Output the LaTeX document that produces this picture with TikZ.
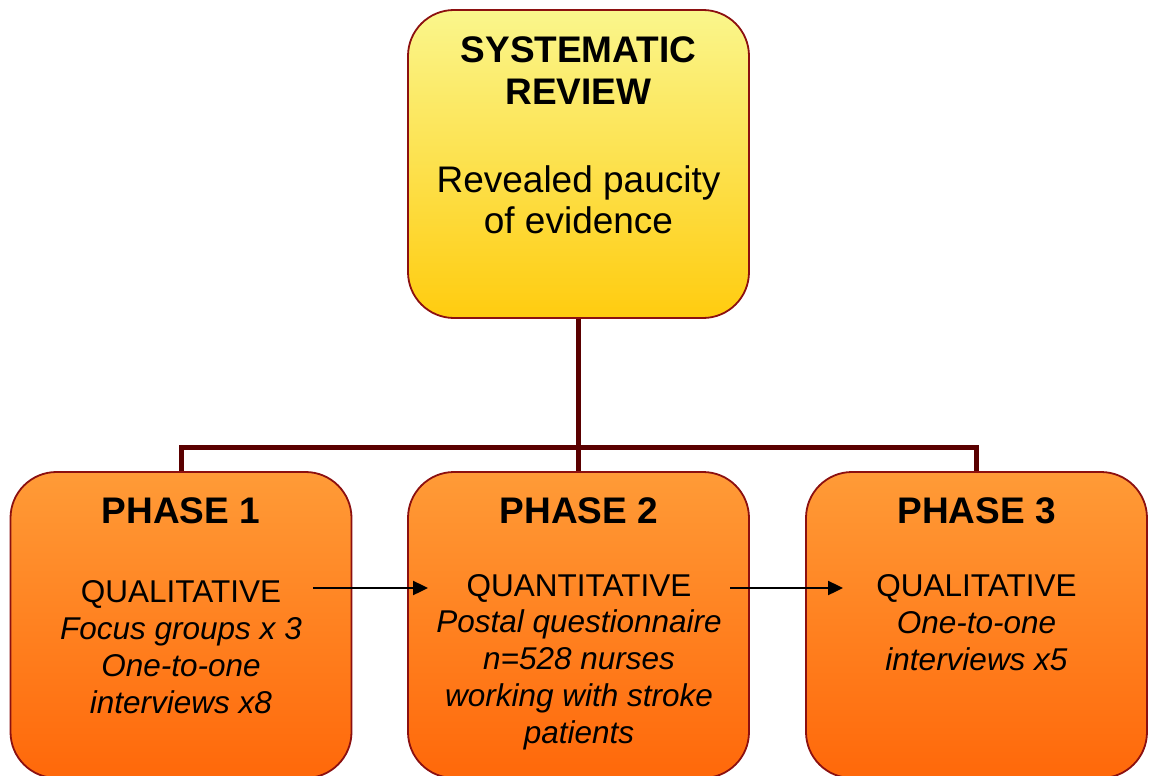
\documentclass[tikz,border=0pt]{standalone}
\usepackage{fontspec}
\setmainfont{Liberation Sans}
\usetikzlibrary{arrows.meta}
\definecolor{ytop}{RGB}{250,246,140}
\definecolor{ybot}{RGB}{255,204,15}
\definecolor{otop}{RGB}{255,155,55}
\definecolor{obot}{RGB}{255,104,10}
\definecolor{boxline}{RGB}{140,16,16}
\definecolor{connline}{RGB}{90,0,0}
\tikzset{
  box/.style={draw=boxline, line width=1.8pt, rounded corners=46pt, inner sep=0pt, minimum width=341pt},
  ybox/.style={box, top color=ytop, bottom color=ybot, minimum height=308pt},
  obox/.style={box, top color=otop, bottom color=obot, minimum height=306pt},
  conn/.style={draw=connline, line width=5pt, line join=miter},
  flow/.style={draw=black, line width=2.4pt, -{Triangle[length=15pt,width=14pt]}},
  ttl/.style={font=\fontsize{37}{42}\selectfont\bfseries, align=center, anchor=base, inner sep=0pt},
  big/.style={font=\fontsize{37}{41}\selectfont, align=center, anchor=base, inner sep=0pt},
  body/.style={font=\fontsize{31.5}{36.7}\selectfont, align=center, anchor=base, inner sep=0pt}
}
\begin{document}
\begin{tikzpicture}[x=1pt,y=-1pt]
\useasboundingbox (0,0) rectangle (1149,776);
\fill[white] (0,0) rectangle (1149,776);

% boxes
\node[ybox] (rev) at (578.5,164) {};
\node[obox] (p1) at (181,625) {};
\node[obox] (p2) at (578.5,625) {};
\node[obox] (p3) at (976.5,625) {};

% tree connectors
\coordinate (hb) at (0,447);
\draw[conn] (rev.south) -- (p2.north);
\draw[conn] (p1.north) -- (p1.north |- hb) -- (p3.north |- hb) -- (p3.north);

% top box text (anchor = baseline of last line)
\node[ttl] (revt) at (578.5,104) {SYSTEMATIC\\REVIEW};
\node[big] (revb) at (578.5,233) {Revealed paucity\\of evidence};

% phase titles
\node[ttl] (p1t) at (181,523) {PHASE 1};
\node[ttl] (p2t) at (579,523) {PHASE 2};
\node[ttl] (p3t) at (976.5,523) {PHASE 3};

% phase bodies
\node[body] (p1b) at (181,713) {QUALITATIVE\\\itshape Focus groups x 3\\\itshape One-to-one\\\itshape interviews x8};
\node[body] (p2b) at (579,743) {QUANTITATIVE\\\itshape Postal questionnaire\\\itshape n=528 nurses\\\itshape working with stroke\\\itshape patients};
\node[body] (p3b) at (976.5,670) {QUALITATIVE\\\itshape One-to-one\\\itshape interviews x5};

% flow arrows
\coordinate (a1s) at (313,588);
\coordinate (a1e) at (428,588);
\coordinate (a2s) at (730,588);
\coordinate (a2e) at (843,588);
\draw[flow] (a1s) -- (a1e);
\draw[flow] (a2s) -- (a2e);
\end{tikzpicture}
\end{document}
